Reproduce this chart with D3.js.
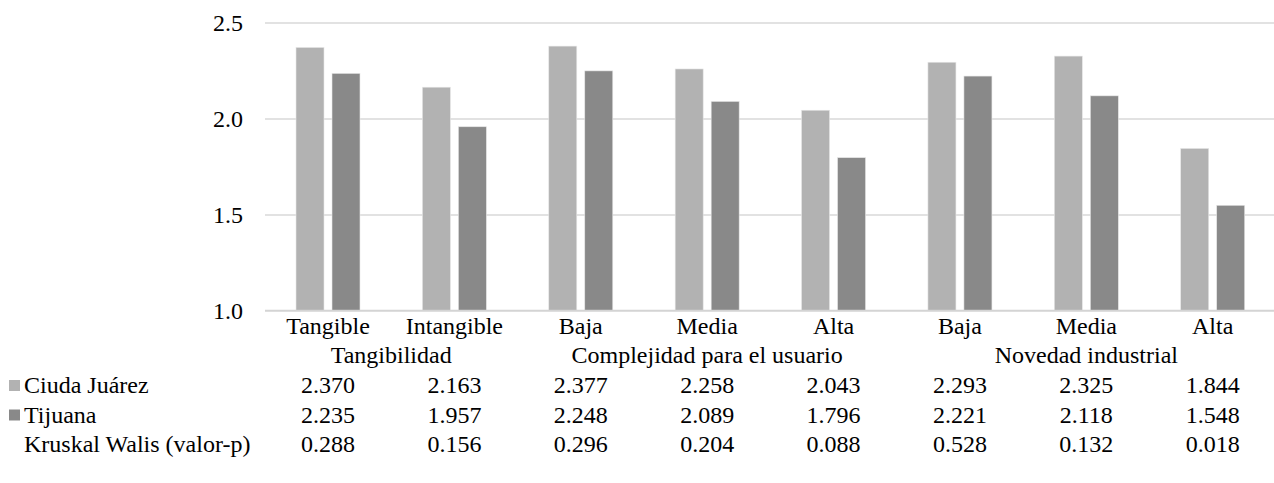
<!DOCTYPE html>
<html>
<head>
<meta charset="utf-8">
<script src="https://cdn.jsdelivr.net/npm/d3@7"></script>
<style>
  body { margin: 0; background: #fff; }
</style>
</head>
<body>
<div id="chart"></div>
<script>
// categories and series
const categories = ["Tangible", "Intangible", "Baja", "Media", "Alta", "Baja", "Media", "Alta"];
const groups = [
  { name: "Tangibilidad", from: 0, to: 1 },
  { name: "Complejidad para el usuario", from: 2, to: 4 },
  { name: "Novedad industrial", from: 5, to: 7 }
];
const ciudadJuarez = [2.370, 2.163, 2.377, 2.258, 2.043, 2.293, 2.325, 1.844];
const tijuana = [2.235, 1.957, 2.248, 2.089, 1.796, 2.221, 2.118, 1.548];
const kruskal = ["0.288", "0.156", "0.296", "0.204", "0.088", "0.528", "0.132", "0.018"];
const yTicks = [1.0, 1.5, 2.0, 2.5];

const W = 1274, H = 483;
const font = "'Liberation Serif', 'Times New Roman', Times, 'DejaVu Serif', serif";
const fs = 24;
const colors = { cj: "#b2b2b2", tj: "#898989" };

const svg = d3.select("#chart").append("svg")
  .attr("width", W).attr("height", H)
  .attr("font-family", font);

const x = d3.scaleBand()
  .domain(d3.range(categories.length))
  .range([264.8, 1275.9])
  .paddingInner(0).paddingOuter(0);

const xs = d3.scaleBand()
  .domain(["cj", "tj"])
  .range([31.2, 95.2])
  .paddingInner(8 / 36);

const y = d3.scaleLinear()
  .domain([1, 2.5])
  .range([310.5, 22.5]);

const cx = i => x(i) + x.bandwidth() / 2;

// gridlines + y labels
const yAxis = svg.append("g")
  .attr("transform", "translate(265,0)")
  .call(d3.axisLeft(y).tickValues(yTicks).tickFormat(d3.format(".1f")).tickSize(-(W - 265)));
yAxis.attr("font-family", font).attr("font-size", fs);
yAxis.select(".domain").remove();
yAxis.selectAll("line").attr("stroke", "#d9d9d9").attr("stroke-width", 1.6);
yAxis.selectAll("text")
  .attr("x", -22)
  .attr("dy", "0.35em")
  .attr("fill", "#000");

// bars
const series = [
  { key: "cj", values: ciudadJuarez },
  { key: "tj", values: tijuana }
];
series.forEach(s => {
  svg.append("g").selectAll("rect")
    .data(s.values)
    .enter().append("rect")
    .attr("x", (d, i) => x(i) + xs(s.key))
    .attr("width", xs.bandwidth())
    .attr("y", d => y(d))
    .attr("height", d => y(1) - y(d))
    .attr("fill", colors[s.key])
    .attr("stroke", "#e6e6e6")
    .attr("stroke-width", 0.6);
});

// baseline axis
svg.append("line")
  .attr("x1", 265).attr("x2", W)
  .attr("y1", y(1)).attr("y2", y(1))
  .attr("stroke", "#d4d4d4").attr("stroke-width", 1.6);

function label(g, px, py, str, anchor) {
  g.append("text")
    .attr("x", px).attr("y", py)
    .attr("text-anchor", anchor || "middle")
    .attr("font-family", font)
    .attr("font-size", fs)
    .attr("fill", "#000")
    .text(str);
}

const lab = svg.append("g");
categories.forEach((c, i) => label(lab, cx(i), 334, c));
groups.forEach(g => label(lab, (cx(g.from) + cx(g.to)) / 2, 363, g.name));

// data table
const rows = [
  { name: "Ciuda Juárez", key: "cj", vals: ciudadJuarez.map(d3.format(".3f")) },
  { name: "Tijuana", key: "tj", vals: tijuana.map(d3.format(".3f")) },
  { name: "Kruskal Walis (valor-p)", key: null, vals: kruskal }
];
rows.forEach((r, j) => {
  const by = 393 + j * 29.5;
  if (r.key) {
    lab.append("rect")
      .attr("x", 9).attr("y", by - 13)
      .attr("width", 11).attr("height", 11)
      .attr("fill", colors[r.key]);
  }
  label(lab, 24, by, r.name, "start");
  r.vals.forEach((v, i) => label(lab, cx(i), by, v));
});
</script>
</body>
</html>
